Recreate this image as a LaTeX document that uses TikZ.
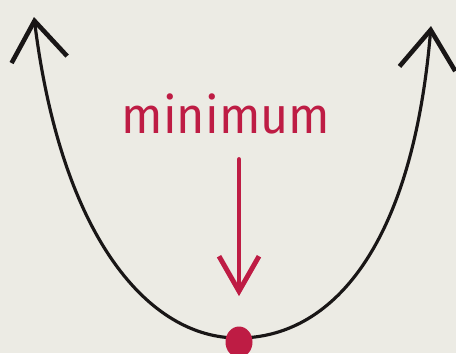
\documentclass[tikz,border=0pt]{standalone}
\usepackage{fontspec}
\setsansfont{Fira Sans}
\usetikzlibrary{arrows.meta,shapes.geometric,positioning}
\definecolor{paper}{RGB}{236,235,228}
\definecolor{ink}{RGB}{25,22,22}
\definecolor{crimson}{RGB}{190,28,68}

\begin{document}
\begin{tikzpicture}[x=0.02cm, y=-0.02cm,
  curve/.style={draw=ink, line width=1.8pt, line cap=round},
  tipbarb/.tip={Straight Barb[length=0.78cm, width=1.12cm, line width=2.6pt]},
  redbarb/.tip={Straight Barb[length=0.7cm, width=0.8cm, line width=2.8pt]}]

  % ===== Paper =====
  \fill[paper] (0,0) rectangle (456,353);
  \useasboundingbox (0,0) rectangle (456,353);

  % ===== Parabola =====
  \coordinate (lefttip) at (34,17);
  \coordinate (bottom) at (238,338);
  \coordinate (righttip) at (431,26);

  \draw[curve, tipbarb-tipbarb] (lefttip)
    .. controls (62,240) and (150,338) .. (bottom)
    .. controls (330,338) and (412,250) .. (righttip);

  % ===== Minimum =====
  \node[ellipse, fill=crimson, minimum width=0.54cm, minimum height=0.62cm, inner sep=0pt]
    (dot) at (239,342) {};
  \node[crimson, font=\sffamily\fontsize{29}{29}\selectfont, xscale=0.95, inner sep=0pt]
    (label) at (226,114) {minimum};

  \draw[crimson, line width=2.8pt, line cap=round, -redbarb]
    ([yshift=-0.5cm]label.south -| dot) -- ([yshift=0.6cm]dot.north);

\end{tikzpicture}
\end{document}
